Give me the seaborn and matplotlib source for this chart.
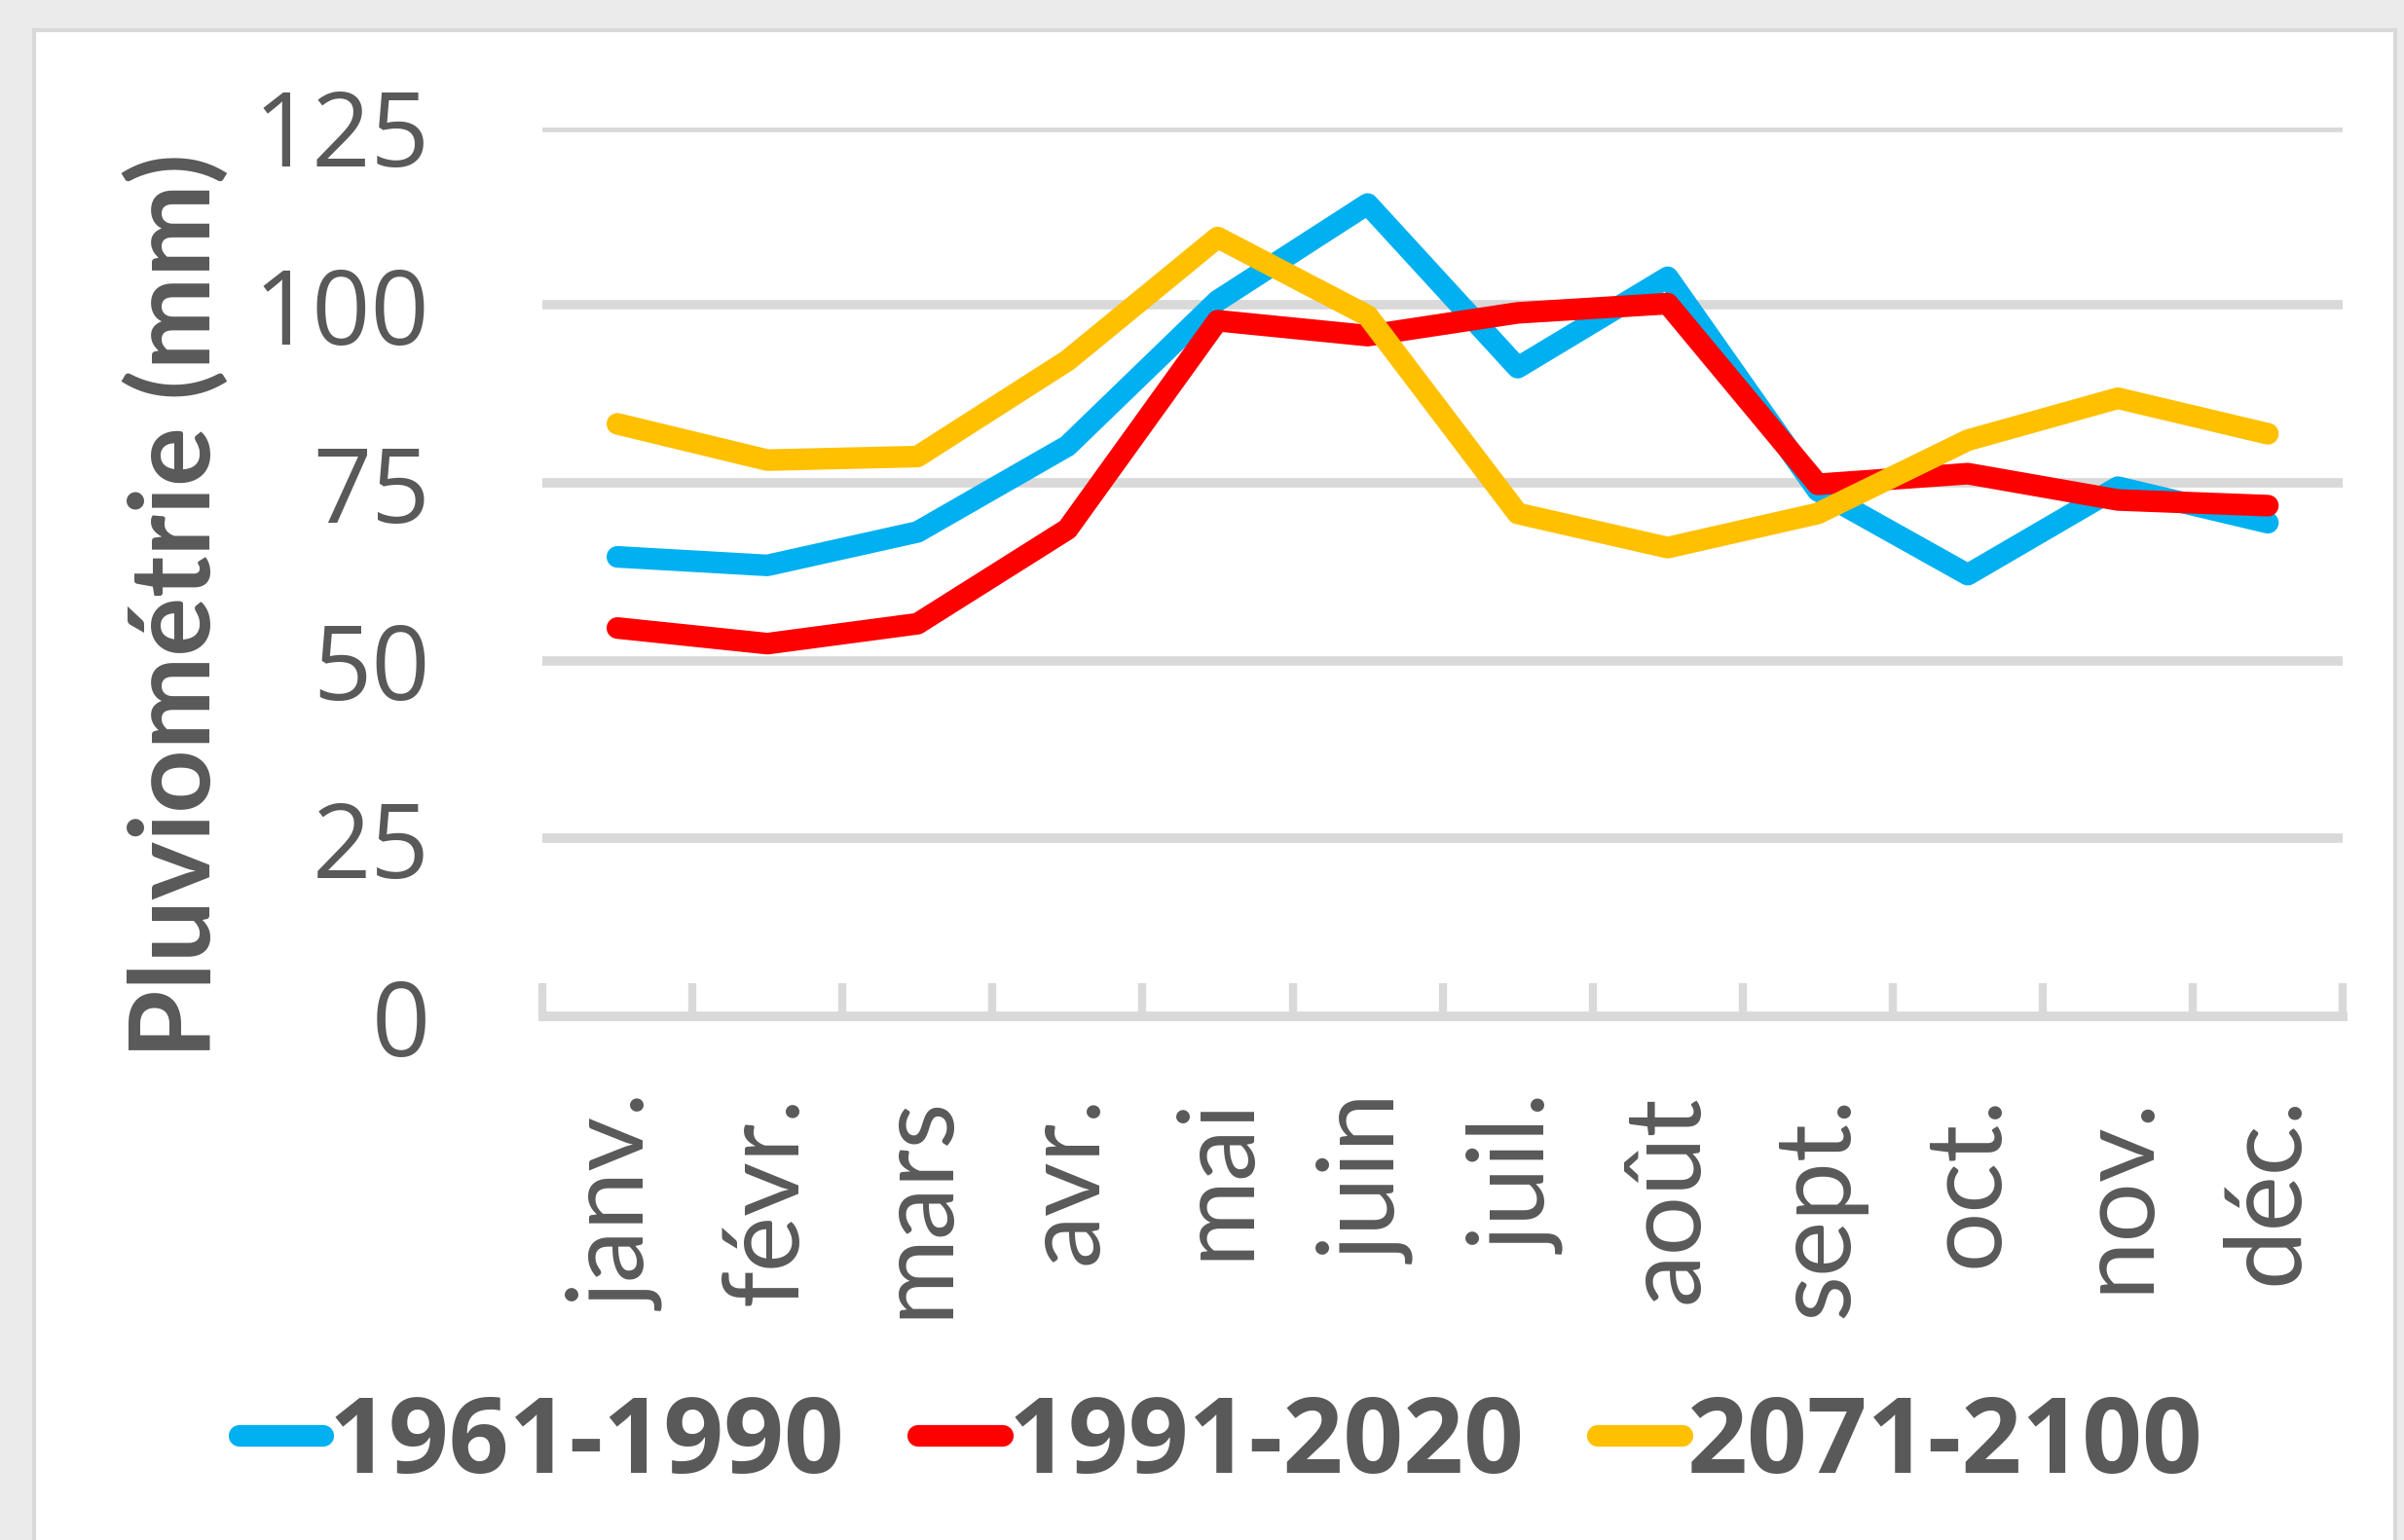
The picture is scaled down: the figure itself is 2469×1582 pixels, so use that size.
import pandas as pd
import seaborn as sns
from matplotlib import pyplot as plt
from matplotlib.patches import Rectangle

mois = ['janv.', 'févr.', 'mars', 'avr.', 'mai', 'juin',
        'juil.', 'août', 'sept.', 'oct.', 'nov.', 'déc.']
pluie = {
    '1961-1990': [64.6, 63.4, 68.1, 80.2, 100.6, 114.2, 91.2, 103.9, 73.9, 62.1, 74.4, 69.4],
    '1991-2020': [54.6, 52.4, 55.2, 68.5, 97.8, 95.7, 98.9, 100.2, 74.8, 76.3, 72.6, 71.8],
    '2071-2100': [83.3, 78.2, 78.7, 92.2, 109.5, 98.5, 70.7, 65.9, 70.7, 81.0, 86.9, 81.9],
}
couleurs = {'1961-1990': '#00B0F0', '1991-2020': '#FF0000', '2071-2100': '#FFC000'}

data = pd.DataFrame(pluie, index=mois).reset_index(names='mois')
data = data.melt(id_vars='mois', var_name='periode', value_name='mm')

sns.set_theme(style="white")
plt.rcParams['font.family'] = ['Lato', 'DejaVu Sans']
gris_txt = '#595959'
gris_ligne = '#D9D9D9'
chiffres = ['Open Sans', 'DejaVu Sans']  # Lato a des chiffres elzéviriens
epaisseur = 16

fig = plt.figure(figsize=(24.69, 15.82), dpi=100, facecolor='#EBEBEB')
# cadre blanc du graphique
fig.add_artist(Rectangle((35 / 2469, -0.01), 2425 / 2469, 1 - 31 / 1582 + 0.01,
                         transform=fig.transFigure, facecolor='white',
                         edgecolor=gris_ligne, lw=3, zorder=-1))
ax = fig.add_axes([0.2256, 0.340, 0.749, 0.5774])
ax.set_facecolor('white')

sns.lineplot(data=data, x='mois', y='mm', hue='periode', palette=couleurs,
             sort=False, linewidth=epaisseur, ax=ax)
for ligne in ax.lines:
    ligne.set_linewidth(epaisseur)
    ligne.set_solid_capstyle('round')
    ligne.set_solid_joinstyle('round')

ax.set_ylim(0, 125)
ax.set_xlim(-0.5, 11.5)
ax.set_yticks([0, 25, 50, 75, 100, 125])
ax.yaxis.grid(True, color=gris_ligne, lw=7)
ax.set_axisbelow(True)
for s in ['top', 'right', 'left']:
    ax.spines[s].set_visible(False)
ax.spines['bottom'].set_color(gris_ligne)
ax.spines['bottom'].set_linewidth(6.5)

ax.tick_params(axis='y', length=0, pad=83, labelsize=76, labelcolor=gris_txt)
for t in ax.get_yticklabels():
    t.set_fontfamily(chiffres)
ax.tick_params(axis='x', which='major', length=0, pad=58, labelsize=78,
               labelcolor=gris_txt, labelrotation=90)
ax.set_xticks([i - 0.5 for i in range(13)], minor=True)
ax.tick_params(axis='x', which='minor', bottom=True, direction='in', length=24.5,
               width=6, color=gris_ligne)

ax.set_xlabel('')
ax.set_ylabel('Pluviométrie (mm)', fontsize=82, fontweight='bold', color=gris_txt, va='center')
ax.yaxis.set_label_coords(-0.2034, 0.462)

handles, labels = ax.get_legend_handles_labels()
ax.legend(handles, labels, loc='center', bbox_to_anchor=(0.508, 0.0613),
          bbox_transform=fig.transFigure, ncol=3, frameon=False,
          handlelength=0.8, handletextpad=0.05, columnspacing=0.7,
          prop={'family': chiffres, 'size': 78, 'weight': 'bold'}, labelcolor=gris_txt)
for ligne in ax.get_legend().get_lines():
    ligne.set_linewidth(epaisseur)
    ligne.set_solid_capstyle('round')

fig.savefig('out.png', dpi=100, facecolor=fig.get_facecolor())
